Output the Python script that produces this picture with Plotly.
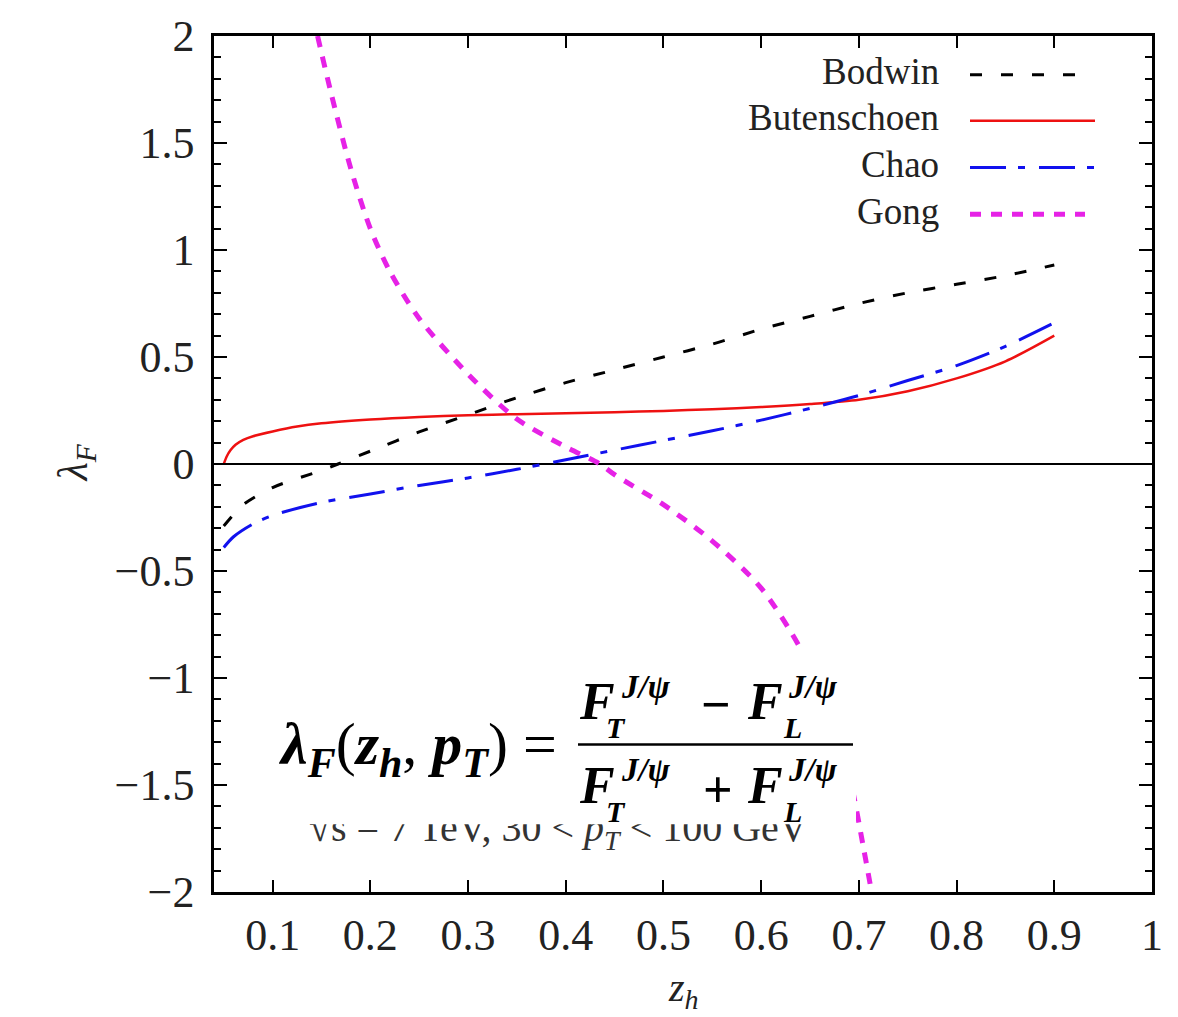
import plotly.graph_objects as go

# ---------------- data ----------------
bodwin_x = [0.05, 0.07, 0.10, 0.15, 0.167, 0.20, 0.25, 0.30, 0.35, 0.40, 0.45, 0.50,
            0.55, 0.60, 0.65, 0.70, 0.75, 0.80, 0.85, 0.90]
bodwin_y = [-0.29, -0.19, -0.11, -0.03, 0.0, 0.06, 0.15, 0.23, 0.31, 0.38, 0.44, 0.50,
            0.56, 0.63, 0.69, 0.75, 0.80, 0.84, 0.88, 0.93]

buten_x = [0.05, 0.053, 0.057, 0.062, 0.07, 0.08, 0.10, 0.125, 0.15, 0.20, 0.25, 0.30,
           0.35, 0.40, 0.45, 0.50, 0.55, 0.60, 0.65, 0.70, 0.75, 0.80, 0.85, 0.90]
buten_y = [0.0, 0.035, 0.065, 0.09, 0.113, 0.13, 0.152, 0.175, 0.19, 0.208, 0.22, 0.228,
           0.233, 0.237, 0.242, 0.248, 0.256, 0.266, 0.28, 0.30, 0.34, 0.40, 0.48, 0.60]

chao_x = [0.05, 0.06, 0.08, 0.10, 0.15, 0.20, 0.25, 0.30, 0.35, 0.40, 0.45, 0.50,
          0.55, 0.60, 0.65, 0.70, 0.75, 0.80, 0.85, 0.90]
chao_y = [-0.39, -0.34, -0.28, -0.24, -0.18, -0.14, -0.10, -0.065, -0.025, 0.02, 0.065, 0.11,
          0.155, 0.205, 0.26, 0.32, 0.39, 0.46, 0.55, 0.66]

gong_x = [0.146, 0.16, 0.18, 0.20, 0.22, 0.25, 0.30, 0.35, 0.40, 0.435, 0.45, 0.50,
          0.55, 0.60, 0.64, 0.67, 0.69, 0.705, 0.713]
gong_y = [2.0, 1.73, 1.38, 1.10, 0.90, 0.68, 0.42, 0.21, 0.08, 0.0, -0.05, -0.19,
          -0.36, -0.58, -0.86, -1.15, -1.45, -1.80, -2.0]

series_names = ["Bodwin", "Butenschoen", "Chao", "Gong"]
series_colors = ["#000000", "#ee1111", "#1111ee", "#e622e6"]
series_dash = ["12px,19px", "solid", "36px,12px,7px,14px", "11px,10px"]
series_width = [3, 2.5, 3, 5]

x_tickvals = [0.1, 0.2, 0.3, 0.4, 0.5, 0.6, 0.7, 0.8, 0.9, 1.0]
x_ticktext = ["0.1", "0.2", "0.3", "0.4", "0.5", "0.6", "0.7", "0.8", "0.9", "1"]
y_tickvals = [-2, -1.5, -1, -0.5, 0, 0.5, 1, 1.5, 2]
y_ticktext = ["\u22122", "\u22121.5", "\u22121", "\u22120.5", "0", "0.5", "1", "1.5", "2"]

# ---------------- figure ----------------
W, H = 1178, 1017
L, R, T, B = 214, 1152, 33, 892   # plot area in pixels


def px(x):
    return (x - L) / (R - L)


def py(y):
    return (B - y) / (B - T)


SERIF = "Liberation Serif"
fig = go.Figure()

all_x = [bodwin_x, buten_x, chao_x, gong_x]
all_y = [bodwin_y, buten_y, chao_y, gong_y]
for i, name in enumerate(series_names):
    fig.add_trace(go.Scatter(
        x=all_x[i], y=all_y[i], mode="lines", name=name,
        line=dict(color=series_colors[i], width=series_width[i], dash=series_dash[i],
                  shape="spline", smoothing=0.8),
        showlegend=False, hoverinfo="skip"))

# half hidden energy label (drawn under the formula box)
fig.add_trace(go.Scatter(
    x=[0.3925], y=[-1.716], mode="text",
    text=["\u221as = 7 TeV, 30 &lt; <i>p</i><sub><i>T</i></sub> &lt; 100 GeV"],
    textfont=dict(family=SERIF, size=40, color="#333333"),
    textposition="middle center", showlegend=False, hoverinfo="skip"))

axis_common = dict(showline=True, linecolor="black", linewidth=2.5, mirror="ticks",
                   ticks="inside", tickcolor="black", tickwidth=2, showgrid=False,
                   tickfont=dict(family=SERIF, size=44, color="#222222"))

fig.update_xaxes(range=[0.04, 1.0], tickvals=x_tickvals, ticktext=x_ticktext,
                 ticklen=12, ticklabelstandoff=2, zeroline=False, **axis_common)
fig.update_yaxes(range=[-2, 2], tickvals=y_tickvals, ticktext=y_ticktext,
                 ticklen=13, ticklabelstandoff=8,
                 zeroline=True, zerolinecolor="black", zerolinewidth=2,
                 minor=dict(dtick=0.1, tick0=0, ticks="inside", ticklen=7,
                            tickcolor="black", tickwidth=2, showgrid=False),
                 **axis_common)

shapes = []
annotations = []

# axis titles
annotations.append(dict(xref="paper", yref="paper", x=px(76), y=py(462),
                        text="<i>\u03bb</i><sub><i>F</i></sub>", textangle=-90,
                        showarrow=False, font=dict(family=SERIF, size=42, color="#222222"),
                        xanchor="center", yanchor="middle"))
annotations.append(dict(xref="paper", yref="paper", x=px(683), y=py(990),
                        text="<i>z</i><sub><i>h</i></sub>",
                        showarrow=False, font=dict(family=SERIF, size=40, color="#222222"),
                        xanchor="center", yanchor="middle"))

# legend (text right-aligned, sample on the right)
legend_rows = [72, 118, 165, 212]
legend_ends = [1080, 1095, 1095, 1085]
for i, name in enumerate(series_names):
    annotations.append(dict(xref="paper", yref="paper", x=px(941), y=py(legend_rows[i] - 3),
                            text=name, showarrow=False, xanchor="right", yanchor="middle",
                            font=dict(family=SERIF, size=37, color="#222222")))
    shapes.append(dict(type="line", xref="paper", yref="paper",
                       x0=px(970), x1=px(legend_ends[i]),
                       y0=py(legend_rows[i]), y1=py(legend_rows[i]),
                       line=dict(color=series_colors[i], width=series_width[i],
                                 dash=series_dash[i]), layer="above"))

# formula box (white, covers curve and part of the energy label)
shapes.append(dict(type="rect", xref="paper", yref="paper",
                   x0=px(268), x1=px(856), y0=py(824), y1=py(650),
                   fillcolor="white", line=dict(width=0), layer="above"))
# fraction bar
shapes.append(dict(type="line", xref="paper", yref="paper",
                   x0=px(578), x1=px(853), y0=py(744), y1=py(744),
                   line=dict(color="black", width=2.5), layer="above"))

FF = dict(family=SERIF, size=52, color="black")
FS = dict(family=SERIF, size=33, color="black")
FT = dict(family=SERIF, size=30, color="black")


def txt(x, y, s, font, xanchor="left"):
    annotations.append(dict(xref="paper", yref="paper", x=px(x), y=py(y), text=s,
                            showarrow=False, xanchor=xanchor, yanchor="middle", font=font))


txt(276, 748, "<b><i>\u03bb</i></b><sub><b><i>F</i></b></sub>(<b><i>z</i></b><sub><b><i>h</i></b></sub>, "
    "<b><i>p</i></b><sub><b><i>T</i></b></sub>)&nbsp;=", dict(family=SERIF, size=60, color="black"))

Fb = "<b><i>F</i></b>"
JP = "<b><i>J/\u03c8</i></b>"
for yoff in (0, 84):
    txt(577, 701 + yoff, Fb, FF)
    txt(619, 686 + yoff, JP, FS)
    txt(604, 727 + yoff, "<b><i>T</i></b>", FT)
    txt(745, 701 + yoff, Fb, FF)
    txt(786, 686 + yoff, JP, FS)
    txt(781, 727 + yoff, "<b><i>L</i></b>", FT)
txt(716, 704, "<b>\u2212</b>", FF, xanchor="center")
txt(718, 789, "<b>+</b>", FF, xanchor="center")

fig.update_layout(width=W, height=H, margin=dict(l=L, r=W - R, t=T, b=H - B),
                  plot_bgcolor="white", paper_bgcolor="white",
                  shapes=shapes, annotations=annotations, showlegend=False)

fig.write_html("out.html")
